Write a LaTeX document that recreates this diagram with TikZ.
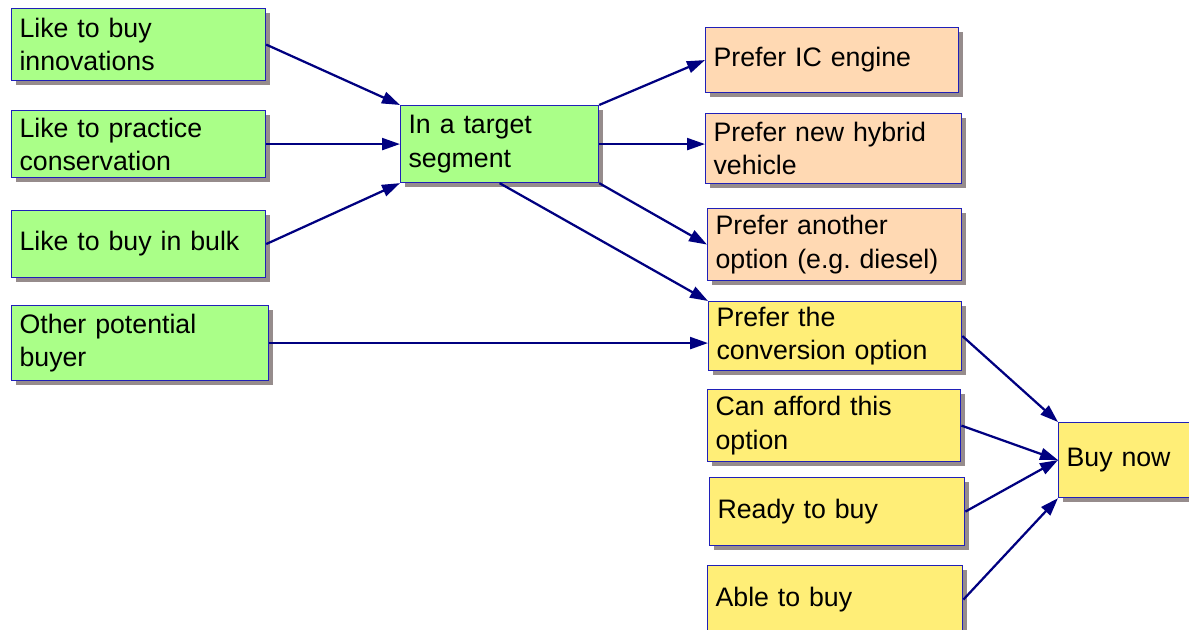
\documentclass[tikz,border=0pt]{standalone}
\usepackage{fontspec}
\setmainfont{Liberation Sans}
\usepackage{tikz}
\usetikzlibrary{arrows.meta,shadows}

\definecolor{boxgreen}{HTML}{AAFF88}
\definecolor{boxpeach}{HTML}{FFD9B3}
\definecolor{boxyellow}{HTML}{FFEE77}
\definecolor{boxline}{HTML}{2020B8}
\definecolor{shadowgray}{HTML}{968C8C}
\definecolor{arrownavy}{HTML}{000080}

\begin{document}
\begin{tikzpicture}[x=0.025cm, y=-0.025cm,
	box/.style={draw=boxline, line width=0.8pt, anchor=north west, align=left,
		inner xsep=0.2cm, text width=5.95cm, font=\fontsize{19}{23.5}\selectfont,
		drop shadow={shadow xshift=0.1cm, shadow yshift=-0.1cm, fill=shadowgray, opacity=1}},
	green/.style={box, fill=boxgreen},
	peach/.style={box, fill=boxpeach},
	yellow/.style={box, fill=boxyellow},
	link/.style={draw=arrownavy, line width=1.6pt, -{Triangle[length=0.45cm, width=0.3cm]}}]
			\useasboundingbox (0,0) rectangle (1189,630);
			
			% Motivos de compra (columna izquierda)
			\node[green, minimum height=1.8cm] (innov) at (11,8) {Like to buy\\innovations};
			\node[green, minimum height=1.675cm] (conserv) at (11,110) {Like to practice\\conservation};
			\node[green, minimum height=1.675cm] (bulk) at (11,210) {Like to buy in bulk};
			\node[green, minimum height=1.875cm, text width=6.025cm] (other) at (11,305) {Other potential\\buyer};
			
			% Segmento objetivo
			\node[green, minimum height=1.925cm, text width=4.55cm] (target) at (400,105) {In a target\\segment};
			
			% Preferencias
			\node[peach, minimum height=1.625cm, text width=5.93cm] (ic) at (705,27) {Prefer IC engine};
			\node[peach, minimum height=1.75cm, text width=6cm] (hybrid) at (705,113) {Prefer new hybrid\\vehicle};
			\node[peach, minimum height=1.8cm, text width=5.95cm] (another) at (707,208) {Prefer another\\option (e.g.\ diesel)};
			\node[yellow, minimum height=1.725cm, text width=5.93cm] (conv) at (708,301) {Prefer the\\conversion option};
			
			% Condiciones de compra
			\node[yellow, minimum height=1.8cm, text width=5.93cm] (afford) at (707,389) {Can afford this\\option};
			\node[yellow, minimum height=1.7cm, text width=5.98cm] (ready) at (709,477) {Ready to buy};
			\node[yellow, minimum height=1.7cm, text width=5.98cm] (able) at (707,565) {Able to buy};
			\node[yellow, minimum height=1.875cm, text width=3.2cm] (buynow) at (1058,422) {Buy now};
			
			% Flechas
			\draw[link] (innov.east) -- (target.north west);
			\draw[link] (conserv.east) -- (conserv.east -| target.west);
			\draw[link] (bulk.east) -- (target.south west);
			\draw[link] (other.east) -- (other.east -| conv.west);
			\draw[link] (target.north east) -- (ic.west);
			\draw[link] (target.east) -- (target.east -| hybrid.west);
			\draw[link] (target.south east) -- (another.west);
			\draw[link] (target.south) -- (conv.north west);
			\draw[link] (conv.east) -- (buynow.north west);
			\draw[link] (afford.east) -- (buynow.west);
			\draw[link] (ready.east) -- (buynow.west);
			\draw[link] (able.east) -- (buynow.south west);
			
		\end{tikzpicture}
\end{document}
